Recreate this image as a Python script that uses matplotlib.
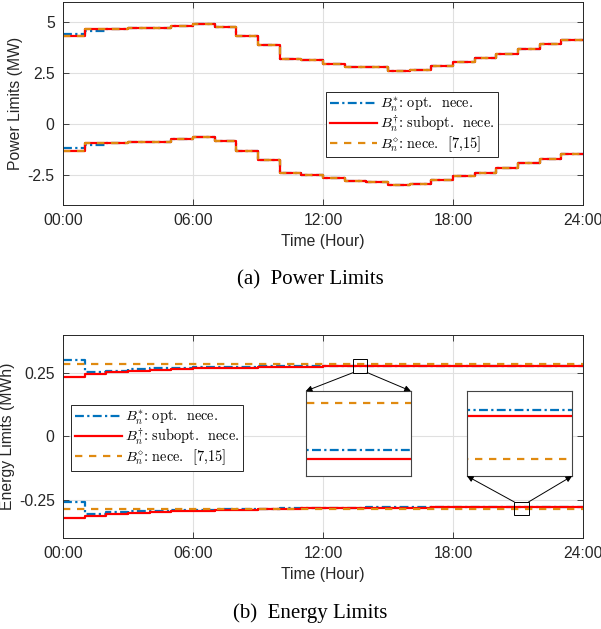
import numpy as np
import matplotlib
matplotlib.use('Agg')
import matplotlib.pyplot as plt
from matplotlib.patches import Rectangle

plt.rcParams['font.family'] = ['Liberation Sans', 'DejaVu Sans']
plt.rcParams['mathtext.fontset'] = 'cm'
plt.rcParams['axes.unicode_minus'] = False

# hourly values (24 steps)
hours = np.arange(25)

# power limits (MW)
pw_up_opt = [4.40, 4.58, 4.65, 4.70, 4.74, 4.84, 4.93, 4.77, 4.34, 3.87, 3.19, 3.13,
             2.96, 2.80, 2.78, 2.62, 2.66, 2.86, 3.03, 3.24, 3.45, 3.68, 3.91, 4.13]
pw_up_sub = [4.33, 4.65, 4.65, 4.70, 4.74, 4.84, 4.93, 4.77, 4.34, 3.87, 3.19, 3.13,
             2.96, 2.80, 2.78, 2.62, 2.66, 2.86, 3.03, 3.24, 3.45, 3.68, 3.91, 4.13]
pw_up_nec = [4.33, 4.65, 4.65, 4.70, 4.74, 4.84, 4.93, 4.77, 4.34, 3.87, 3.19, 3.13,
             2.96, 2.80, 2.78, 2.62, 2.66, 2.86, 3.03, 3.24, 3.45, 3.68, 3.91, 4.13]
pw_lo_opt = [-1.18, -1.02, -0.95, -0.90, -0.87, -0.77, -0.67, -0.86, -1.32, -1.78, -2.43, -2.50,
             -2.68, -2.81, -2.85, -2.99, -2.94, -2.75, -2.58, -2.40, -2.17, -1.92, -1.71, -1.50]
pw_lo_sub = [-1.32, -0.95, -0.95, -0.90, -0.87, -0.77, -0.67, -0.86, -1.32, -1.78, -2.43, -2.50,
             -2.68, -2.81, -2.85, -2.99, -2.94, -2.75, -2.58, -2.40, -2.17, -1.92, -1.71, -1.50]
pw_lo_nec = [-1.32, -0.95, -0.95, -0.90, -0.87, -0.77, -0.67, -0.86, -1.32, -1.78, -2.43, -2.50,
             -2.68, -2.81, -2.85, -2.99, -2.94, -2.75, -2.58, -2.40, -2.17, -1.92, -1.71, -1.50]

# energy limits (MWh)
en_up_opt = [0.300, 0.254, 0.260, 0.265, 0.268, 0.271, 0.273, 0.2745, 0.2757, 0.2766, 0.2773, 0.2779,
             0.2785, 0.2790, 0.2790, 0.2790, 0.2790, 0.2790, 0.2790, 0.2790, 0.2790, 0.2790, 0.2790, 0.2790]
en_up_sub = [0.236, 0.247, 0.253, 0.259, 0.262, 0.266, 0.268, 0.2700, 0.2718, 0.2732, 0.2744, 0.2756,
             0.2768, 0.2776, 0.2776, 0.2776, 0.2776, 0.2776, 0.2776, 0.2776, 0.2776, 0.2776, 0.2776, 0.2776]
en_up_nec = [0.286] * 24
en_lo_opt = [-0.260, -0.304, -0.298, -0.295, -0.293, -0.291, -0.289, -0.2875, -0.2860, -0.2845, -0.2832, -0.2820,
             -0.2810, -0.2802, -0.2796, -0.2792, -0.2789, -0.2787, -0.2786, -0.2786, -0.2786, -0.2786, -0.2786, -0.2786]
en_lo_sub = [-0.323, -0.315, -0.307, -0.303, -0.299, -0.295, -0.292, -0.2900, -0.2880, -0.2862, -0.2847, -0.2834,
             -0.2823, -0.2814, -0.2807, -0.2802, -0.2799, -0.2797, -0.2796, -0.2795, -0.2795, -0.2795, -0.2795, -0.2795]
en_lo_nec = [-0.286] * 24

xticks = [0, 6, 12, 18, 24]
xticklabels = ['00:00', '06:00', '12:00', '18:00', '24:00']

labels = [r'$B_n^{*}$: opt.  nece.',
          r'$B_n^{\dagger}$: subopt.  nece.',
          r'$B_n^{\diamond}$: nece.  [7,15]']

c_opt = '#0072BD'
c_sub = '#FF0000'
c_nec = '#E08A10'
lw = 1.6
axc = '#262626'


def ext(v):
    return np.append(v, v[-1])


def draw(ax, opt, sub, nec, with_label=True):
    l1, = ax.step(hours, ext(opt), where='post', color=c_opt, lw=lw,
                  dashes=(4, 1.5, 1, 1.5), label=labels[0] if with_label else None)
    l2, = ax.step(hours, ext(sub), where='post', color=c_sub, lw=lw,
                  label=labels[1] if with_label else None)
    l3, = ax.step(hours, ext(nec), where='post', color=c_nec, lw=lw,
                  dashes=(3.3, 3.0), label=labels[2] if with_label else None)
    return l1, l2, l3


def style(ax):
    ax.set_xlim(0, 24)
    ax.set_xticks(xticks)
    ax.set_xticklabels(xticklabels)
    ax.grid(True, color='#e0e0e0', lw=0.8)
    ax.set_axisbelow(True)
    ax.tick_params(direction='in', length=4, width=0.6, colors=axc, labelsize=11.3,
                   top=True, right=True, pad=6)
    for s in ax.spines.values():
        s.set_color(axc)
        s.set_linewidth(0.7)
    ax.set_xlabel('Time (Hour)', fontsize=11.3, color=axc, labelpad=4)


def add_legend(ax, anchor):
    leg = ax.legend(loc='upper left', bbox_to_anchor=anchor,
                    prop={'family': 'cmr10', 'size': 10.3},
                    fancybox=False, framealpha=1, edgecolor=axc, handlelength=3.3,
                    handletextpad=0.2, labelspacing=0.02, borderpad=0.25, borderaxespad=0)
    leg.get_frame().set_linewidth(0.7)
    return leg


fig = plt.figure(figsize=(6.01, 6.29), dpi=100)

# (a) power limits
ax1 = fig.add_axes([0.1048, 0.674, 0.8652, 0.3228])
draw(ax1, pw_up_opt, pw_up_sub, pw_up_nec)
draw(ax1, pw_lo_opt, pw_lo_sub, pw_lo_nec, with_label=False)
style(ax1)
ax1.set_ylim(-4, 6)
ax1.set_yticks([-2.5, 0, 2.5, 5])
ax1.set_yticklabels(['-2.5', '0', '2.5', '5'])
ax1.set_ylabel('Power Limits (MW)', fontsize=11.3, color=axc, labelpad=3)
add_legend(ax1, (0.506, 0.557))

# (b) energy limits
ax2 = fig.add_axes([0.1048, 0.1447, 0.8652, 0.3227])
draw(ax2, en_up_opt, en_up_sub, en_up_nec)
draw(ax2, en_lo_opt, en_lo_sub, en_lo_nec, with_label=False)
style(ax2)
ax2.set_ylim(-0.4, 0.4)
ax2.set_yticks([-0.25, 0, 0.25])
ax2.set_yticklabels(['-0.25', '0', '0.25'])
ax2.set_ylabel('Energy Limits (MWh)', fontsize=11.3, color=axc, labelpad=3)
add_legend(ax2, (0.0154, 0.655))

# zoom insets: inset bounds (axes fraction), zoom box x/y range, inset ylim, arrow side
zooms = [
    ([0.467, 0.305, 0.202, 0.419], (13.40, 14.04), (0.252, 0.305), (0.2751, 0.2878), 'top'),
    ([0.777, 0.305, 0.202, 0.419], (20.83, 21.49), (-0.309, -0.258), (-0.2885, -0.2758), 'bottom'),
]
for bounds, (x0, x1), (y0, y1), ylim, side in zooms:
    ins = ax2.inset_axes(bounds)
    draw(ins, en_up_opt, en_up_sub, en_up_nec, with_label=False)
    draw(ins, en_lo_opt, en_lo_sub, en_lo_nec, with_label=False)
    ins.set_xlim(x0, x1)
    ins.set_ylim(*ylim)
    ins.set_xticks([])
    ins.set_yticks([])
    for s in ins.spines.values():
        s.set_color('#444444')
        s.set_linewidth(0.8)
    ax2.add_patch(Rectangle((x0, y0), x1 - x0, y1 - y0, fill=False, ec='k', lw=0.7, zorder=6))
    if side == 'top':
        starts = [(x0, y0), (x1, y0)]
        ends = [(0, 1), (1, 1)]
    else:
        starts = [(x0, y1), (x1, y1)]
        ends = [(0, 0), (1, 0)]
    for st, en in zip(starts, ends):
        ax2.annotate('', xy=en, xycoords=ins.transAxes, xytext=st, textcoords='data',
                     arrowprops=dict(arrowstyle='-|>', color='k', lw=0.7,
                                     mutation_scale=9, shrinkA=0, shrinkB=0),
                     zorder=7)

fig.text(0.516, 0.555, '(a)  Power Limits', family='Liberation Serif', fontsize=15,
         ha='center', va='center')
fig.text(0.516, 0.026, '(b)  Energy Limits', family='Liberation Serif', fontsize=15,
         ha='center', va='center')

fig.savefig('out.png', dpi=100)
